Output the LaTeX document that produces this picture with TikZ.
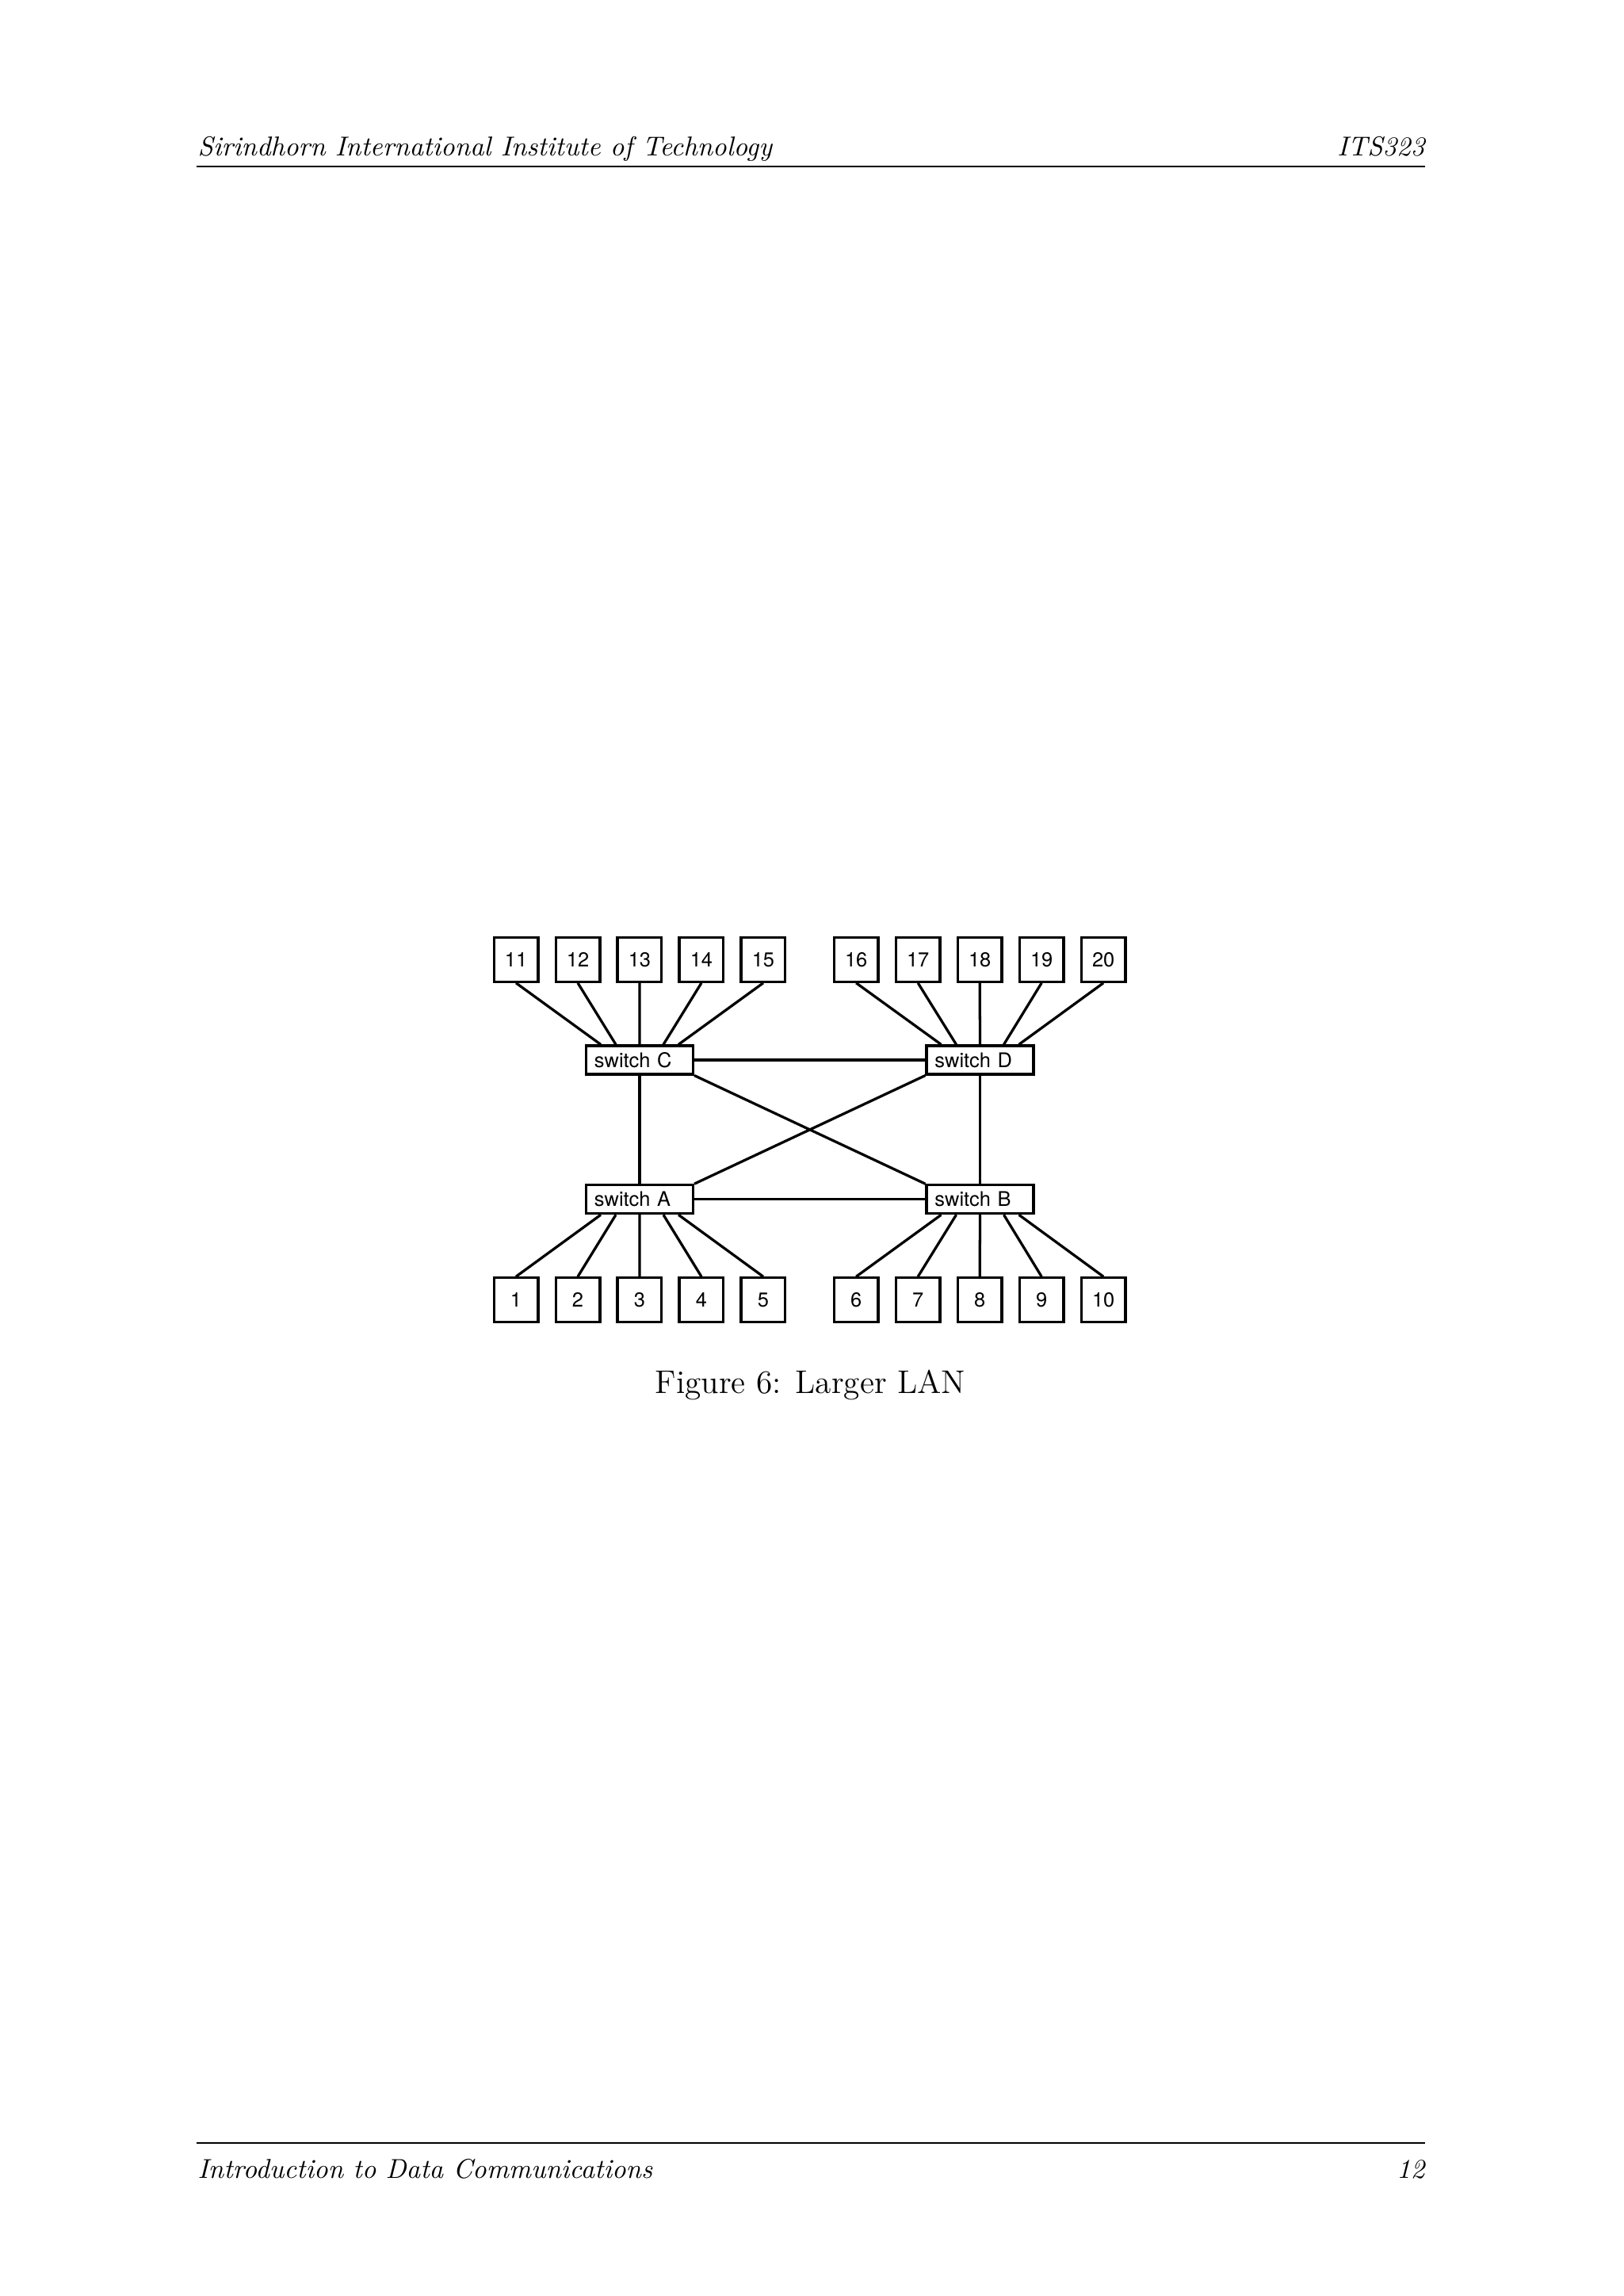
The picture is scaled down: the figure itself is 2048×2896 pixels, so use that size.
\documentclass[tikz,border=0pt]{standalone}
\usepackage{fontspec}
\newfontfamily\lanfont{TeX Gyre Heros}
\usepackage{tikz}
\tikzset{%
  % Specifications for style of nodes:
         host/.style = {rectangle, draw=black, line width=0.95pt,
                        minimum width=16.2pt, minimum height=16.2pt,
                        inner sep=0pt, text centered,
                        font=\fontsize{7.4}{9}\lanfont},
    switchbox/.style = {host, minimum width=39.2pt, minimum height=10.4pt,
                        text width=33.2pt, inner xsep=3pt, align=left},
         link/.style = {line width=0.95pt},
     pagetext/.style = {inner sep=0pt, font=\fontsize{10}{12}\selectfont\itshape},
}

\begin{document}
\begin{tikzpicture}[x=0.29067pt, y=-0.29067pt, node distance=22.67pt]
  \useasboundingbox (0,0) rectangle (2048,2896);
  % Running head and foot of the page
  \node (headL) [pagetext, anchor=base west] at (249,196)
                          {Sirindhorn International Institute of Technology};
  \node (headR) [pagetext, anchor=base east] at (1798,196) {ITS323};
  \node (footL) [pagetext, anchor=base west] at (249,2747)
                                        {Introduction to Data Communications};
  \node (footR) [pagetext, anchor=base east] at (1798,2747) {12};
  \draw[line width=0.4pt] (248,210) -- (1798,210);
  \draw[line width=0.4pt] (248,2703) -- (1798,2703);

  % Specification of nodes (position, etc.)
  \node (swC) [switchbox] at (807,1337)      {switch C};
  \node (swD) [switchbox] at (1236.5,1337)   {switch D};
  \node (swA) [switchbox] at (807,1512.7)    {switch A};
  \node (swB) [switchbox] at (1236.5,1512.7) {switch B};

  \node (h11) [host] at (651,1210.3)               {11};
  \node (h12) [host, right of=h11]                 {12};
  \node (h13) [host, right of=h12]                 {13};
  \node (h14) [host, right of=h13]                 {14};
  \node (h15) [host, right of=h14]                 {15};
  \node (h16) [host, right of=h15, xshift=11.4pt]  {16};
  \node (h17) [host, right of=h16]                 {17};
  \node (h18) [host, right of=h17]                 {18};
  \node (h19) [host, right of=h18]                 {19};
  \node (h20) [host, right of=h19]                 {20};

  \node (h1)  [host] at (651,1639.7)               {1};
  \node (h2)  [host, right of=h1]                  {2};
  \node (h3)  [host, right of=h2]                  {3};
  \node (h4)  [host, right of=h3]                  {4};
  \node (h5)  [host, right of=h4]                  {5};
  \node (h6)  [host, right of=h5, xshift=11.4pt]   {6};
  \node (h7)  [host, right of=h6]                  {7};
  \node (h8)  [host, right of=h7]                  {8};
  \node (h9)  [host, right of=h8]                  {9};
  \node (h10) [host, right of=h9]                  {10};

  \node (caption) [anchor=base, inner sep=0pt, font=\fontsize{12}{14.5}\selectfont]
                  at (1022.5,1757.3) {Figure 6: Larger LAN};

  % Specification of lines between nodes specified above
  \draw[link] (h11.south) -- ([shift={(-49,0)}]swC.north);
  \draw[link] (h12.south) -- ([shift={(-30,0)}]swC.north);
  \draw[link] (h13.south) -- (swC.north);
  \draw[link] (h14.south) -- ([shift={(30,0)}]swC.north);
  \draw[link] (h15.south) -- ([shift={(49,0)}]swC.north);

  \draw[link] (h16.south) -- ([shift={(-49,0)}]swD.north);
  \draw[link] (h17.south) -- ([shift={(-30,0)}]swD.north);
  \draw[link] (h18.south) -- (swD.north);
  \draw[link] (h19.south) -- ([shift={(30,0)}]swD.north);
  \draw[link] (h20.south) -- ([shift={(49,0)}]swD.north);

  \draw[link] (h1.north) -- ([shift={(-49,0)}]swA.south);
  \draw[link] (h2.north) -- ([shift={(-30,0)}]swA.south);
  \draw[link] (h3.north) -- (swA.south);
  \draw[link] (h4.north) -- ([shift={(30,0)}]swA.south);
  \draw[link] (h5.north) -- ([shift={(49,0)}]swA.south);

  \draw[link] (h6.north) -- ([shift={(-49,0)}]swB.south);
  \draw[link] (h7.north) -- ([shift={(-30,0)}]swB.south);
  \draw[link] (h8.north) -- (swB.south);
  \draw[link] (h9.north) -- ([shift={(30,0)}]swB.south);
  \draw[link] (h10.north) -- ([shift={(49,0)}]swB.south);

  \draw[link]       (swC.east) -- (swD.west);
  \draw[link]       (swA.east) -- (swB.west);
  \draw[link]      (swC.south) -- (swA.north);
  \draw[link]      (swD.south) -- (swB.north);
  \draw[link] (swC.south east) -- (swB.north west);
  \draw[link] (swD.south west) -- (swA.north east);
\end{tikzpicture}
\end{document}
